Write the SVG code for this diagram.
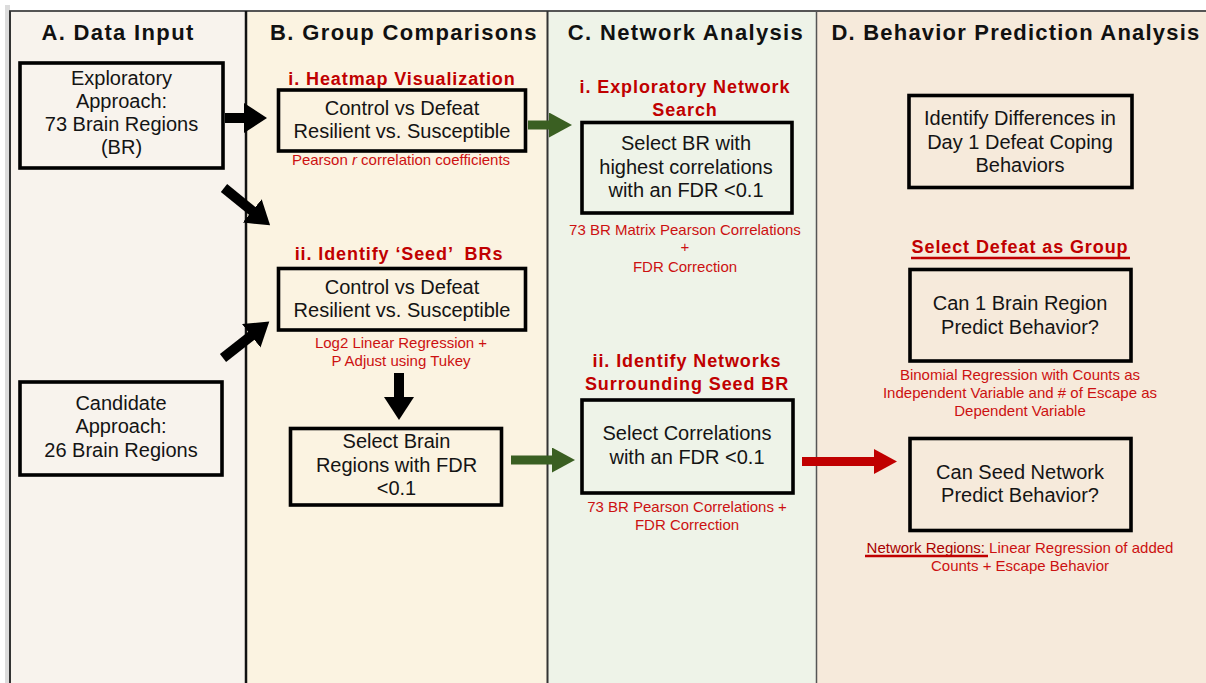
<svg xmlns="http://www.w3.org/2000/svg" width="1206" height="683" viewBox="0 0 1206 683">
<style>
.hdr{font-family:"Liberation Sans",Arial,sans-serif;font-weight:bold;font-size:22px;fill:#111;letter-spacing:1.35px;text-anchor:middle}
.ttl{font-family:"Liberation Sans",Arial,sans-serif;font-weight:bold;font-size:18px;fill:#c00000;letter-spacing:0.9px;text-anchor:middle}
.bt{font-family:"Liberation Sans",Arial,sans-serif;font-size:20px;fill:#141414;text-anchor:middle}
.rt{font-family:"Liberation Sans",Arial,sans-serif;font-size:15px;fill:#cc1111;text-anchor:middle}
.box{fill:none;stroke:#000;stroke-width:3.6}
.blk{stroke:#000;stroke-width:10;fill:none}
.grn{stroke:#3a5f22;stroke-width:9;fill:none}
.red{stroke:#c00000;stroke-width:9;fill:none}
.ul{stroke:#c00000;stroke-width:2.5}
</style>
<defs>
<marker id="hb" markerUnits="userSpaceOnUse" markerWidth="24" markerHeight="30" refX="1" refY="15" orient="auto" viewBox="0 0 24 30"><path d="M0,0 L23,15 L0,30 z" fill="#000"/></marker>
<marker id="hg" markerUnits="userSpaceOnUse" markerWidth="24" markerHeight="25" refX="1" refY="12.5" orient="auto" viewBox="0 0 24 25"><path d="M0,0 L23,12.5 L0,25 z" fill="#3a5f22"/></marker>
<marker id="hr" markerUnits="userSpaceOnUse" markerWidth="24" markerHeight="25" refX="1" refY="12.5" orient="auto" viewBox="0 0 24 25"><path d="M0,0 L23,12.5 L0,25 z" fill="#c00000"/></marker>
</defs>
<rect x="0" y="0" width="1206" height="683" fill="#ffffff"/>
<g id="columns">
<rect x="5" y="5" width="5" height="678" fill="#dcdcdc"/>
<rect x="10" y="11" width="236" height="672" fill="#f8f3ed"/>
<rect x="246" y="11" width="301" height="672" fill="#fbf3e1"/>
<rect x="547" y="11" width="269" height="672" fill="#eef3e8"/>
<rect x="816" y="11" width="390" height="672" fill="#f6eadb"/>
<line x1="9" y1="11" x2="1206" y2="11" stroke="#555" stroke-width="2"/>
<line x1="10" y1="11" x2="10" y2="683" stroke="#333" stroke-width="2"/>
<line x1="246" y1="11" x2="246" y2="683" stroke="#111" stroke-width="2.5"/>
<line x1="547.5" y1="11" x2="547.5" y2="683" stroke="#333" stroke-width="2"/>
<line x1="816.5" y1="11" x2="816.5" y2="683" stroke="#555" stroke-width="1.5"/>
<text class="hdr" x="118" y="40">A. Data Input</text>
<text class="hdr" x="404" y="40">B. Group Comparisons</text>
<text class="hdr" x="686" y="40">C. Network Analysis</text>
<text class="hdr" x="1016" y="40" style="letter-spacing:1.2px">D. Behavior Prediction Analysis</text>
</g>
<g id="exploratory">
<rect class="box" x="20" y="63" width="203" height="105"/>
<text class="bt" x="121.5" y="85">Exploratory</text>
<text class="bt" x="121.5" y="108">Approach:</text>
<text class="bt" x="121.5" y="131">73 Brain Regions</text>
<text class="bt" x="121.5" y="154">(BR)</text>
</g>
<g id="candidate">
<rect class="box" x="20" y="382" width="202" height="93"/>
<text class="bt" x="121" y="410">Candidate</text>
<text class="bt" x="121" y="433">Approach:</text>
<text class="bt" x="121" y="457">26 Brain Regions</text>
</g>
<g id="heatmap">
<text class="ttl" x="402" y="85">i. Heatmap Visualization</text>
<rect class="box" x="278.5" y="90" width="247" height="61"/>
<text class="bt" x="402" y="115">Control vs Defeat</text>
<text class="bt" x="402" y="138">Resilient vs. Susceptible</text>
<text class="rt" x="401" y="165">Pearson <tspan font-style="italic">r</tspan> correlation coefficients</text>
</g>
<g id="seed">
<text class="ttl" x="399" y="260" xml:space="preserve">ii. Identify ‘Seed’  BRs</text>
<rect class="box" x="278.5" y="268.5" width="247" height="61.5"/>
<text class="bt" x="402" y="294">Control vs Defeat</text>
<text class="bt" x="402" y="317">Resilient vs. Susceptible</text>
<text class="rt" x="401" y="348">Log2 Linear Regression +</text>
<text class="rt" x="401" y="366">P Adjust using Tukey</text>
</g>
<g id="select-brain">
<rect class="box" x="290.5" y="428.5" width="211" height="76.5"/>
<text class="bt" x="396.5" y="448">Select Brain</text>
<text class="bt" x="396.5" y="471.5">Regions with FDR</text>
<text class="bt" x="396.5" y="495">&lt;0.1</text>
</g>
<g id="exploratory-network">
<text class="ttl" x="685" y="92.5">i. Exploratory Network</text>
<text class="ttl" x="685" y="116">Search</text>
<rect class="box" x="582" y="122.5" width="210" height="90.5"/>
<text class="bt" x="686" y="150">Select BR with</text>
<text class="bt" x="686" y="173.5">highest correlations</text>
<text class="bt" x="686" y="197">with an FDR &lt;0.1</text>
<text class="rt" x="685" y="234.5">73 BR Matrix Pearson Correlations</text>
<text class="rt" x="685" y="252">+</text>
<text class="rt" x="685" y="272">FDR Correction</text>
</g>
<g id="networks">
<text class="ttl" x="687" y="367">ii. Identify Networks</text>
<text class="ttl" x="687" y="390">Surrounding Seed BR</text>
<rect class="box" x="582" y="400" width="211" height="93"/>
<text class="bt" x="687" y="440">Select Correlations</text>
<text class="bt" x="687" y="463.5">with an FDR &lt;0.1</text>
<text class="rt" x="687" y="512">73 BR Pearson Correlations +</text>
<text class="rt" x="687" y="530">FDR Correction</text>
</g>
<g id="differences">
<rect class="box" x="909" y="95.5" width="223" height="92"/>
<text class="bt" x="1020" y="125">Identify Differences in</text>
<text class="bt" x="1020" y="148.5">Day 1 Defeat Coping</text>
<text class="bt" x="1020" y="172">Behaviors</text>
</g>
<g id="one-region">
<text class="ttl" x="1020" y="253">Select Defeat as Group</text>
<line class="ul" x1="911" y1="258" x2="1130" y2="258"/>
<rect class="box" x="910" y="269.5" width="221" height="91.5"/>
<text class="bt" x="1020" y="309.5">Can 1 Brain Region</text>
<text class="bt" x="1020" y="333.5">Predict Behavior?</text>
<text class="rt" x="1020" y="379.5">Binomial Regression with Counts as</text>
<text class="rt" x="1020" y="398">Independent Variable and # of Escape as</text>
<text class="rt" x="1020" y="416">Dependent Variable</text>
</g>
<g id="seed-network">
<rect class="box" x="910" y="438.5" width="221" height="92"/>
<text class="bt" x="1020" y="478.5">Can Seed Network</text>
<text class="bt" x="1020" y="502">Predict Behavior?</text>
<text class="rt" x="1020" y="553"><tspan fill="#a80000">Network Regions:</tspan> Linear Regression of added</text>
<line class="ul" x1="865" y1="556" x2="988" y2="556"/>
<text class="rt" x="1020" y="571">Counts + Escape Behavior</text>
</g>
<g id="connectors">
<line class="blk" x1="225" y1="118" x2="245" y2="118" marker-end="url(#hb)"/>
<line class="blk" x1="224" y1="188" x2="253" y2="211.5" marker-end="url(#hb)"/>
<line class="blk" x1="223" y1="358" x2="252" y2="335.2" marker-end="url(#hb)"/>
<line class="blk" x1="399" y1="373" x2="399" y2="398" marker-end="url(#hb)"/>
<line class="grn" x1="528" y1="125" x2="550" y2="125" marker-end="url(#hg)"/>
<line class="grn" x1="511" y1="460" x2="553" y2="460" marker-end="url(#hg)"/>
<line class="red" x1="802" y1="461.5" x2="875" y2="461.5" marker-end="url(#hr)"/>
</g>
</svg>
